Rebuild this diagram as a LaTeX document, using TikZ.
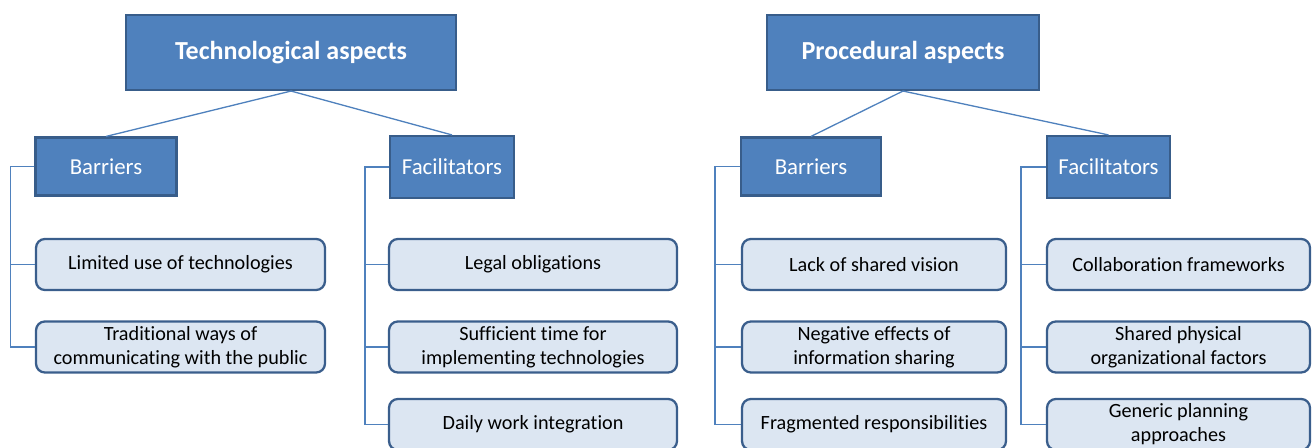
\documentclass[tikz,border=0pt]{standalone}
\usepackage{fontspec}
\setmainfont{Carlito}[Ligatures=NoCommon]
\definecolor{boxblue}{RGB}{79, 129, 189}
\definecolor{boxedge}{RGB}{56, 93, 138}
\definecolor{leaffill}{RGB}{220, 230, 242}
\definecolor{leafedge}{RGB}{58, 94, 140}

\begin{document}
\begin{tikzpicture}[x=0.02cm, y=-0.02cm,
  head/.style={draw=boxedge, fill=boxblue, line width=1.2pt, text=white, inner sep=0pt,
               minimum height=1.5cm, font=\fontsize{14.8}{17}\selectfont\bfseries},
  group/.style={draw=boxedge, fill=boxblue, line width=1.2pt, text=white, inner sep=0pt,
                font=\fontsize{13}{16}\selectfont},
  leaf/.style={draw=leafedge, fill=leaffill, line width=1.3pt, rounded corners=5pt,
               align=center, inner sep=0pt, minimum height=1.02cm,
               font=\fontsize{11.5}{13.6}\selectfont},
  link/.style={draw=boxblue, line width=0.75pt}]
  \useasboundingbox (0, 0) rectangle (1312, 448);

  % technological side
  \node[head, minimum width=6.6cm] (tech) at (291, 52.5) {Technological aspects};
  \node[group, minimum width=2.82cm, minimum height=1.16cm] (tbar) at (106, 166.5) {Barriers};
  \node[group, minimum width=2.48cm, minimum height=1.24cm] (tfac) at (452, 167) {Facilitators};

  \node[leaf, minimum width=5.78cm] (tb1) at (180.5, 264.5) {Limited use of technologies};
  \node[leaf, minimum width=5.78cm] (tb2) at (180.5, 347) {Traditional ways of\\communicating with the public};

  \node[leaf, minimum width=5.76cm] (tf1) at (533, 264.5) {Legal obligations};
  \node[leaf, minimum width=5.76cm] (tf2) at (533, 347) {Sufficient time for\\implementing technologies};
  \node[leaf, minimum width=5.76cm] (tf3) at (533, 424.5) {Daily work integration};

  % procedural side
  \node[head, minimum width=5.44cm] (proc) at (903, 52.5) {Procedural aspects};
  \node[group, minimum width=2.8cm, minimum height=1.16cm] (pbar) at (811, 166.5) {Barriers};
  \node[group, minimum width=2.46cm, minimum height=1.24cm] (pfac) at (1108.5, 167) {Facilitators};

  \node[leaf, minimum width=5.28cm] (pb1) at (874, 264.5) {Lack of shared vision};
  \node[leaf, minimum width=5.28cm] (pb2) at (874, 347) {Negative effects of\\information sharing};
  \node[leaf, minimum width=5.28cm] (pb3) at (874, 424.5) {Fragmented responsibilities};

  \node[leaf, minimum width=5.26cm] (pf1) at (1178.5, 264.5) {Collaboration frameworks};
  \node[leaf, minimum width=5.26cm] (pf2) at (1178.5, 347) {Shared physical\\organizational factors};
  \node[leaf, minimum width=5.26cm] (pf3) at (1178.5, 424.5) {Generic planning\\approaches};

  % links
  \draw[link] (tech.south) -- (tbar.north);
  \draw[link] (tech.south) -- (tfac.north);
  \draw[link] (proc.south) -- (pbar.north);
  \draw[link] (proc.south) -- (pfac.north);

  \foreach \c in {tb1, tb2} {
    \draw[link] (tbar.west) -- ++(-24, 0) |- (\c.west);
  }
  \foreach \c in {tf1, tf2, tf3} {
    \draw[link] (tfac.west) -- ++(-24, 0) |- (\c.west);
  }
  \foreach \c in {pb1, pb2, pb3} {
    \draw[link] (pbar.west) -- ++(-25, 0) |- (\c.west);
  }
  \foreach \c in {pf1, pf2, pf3} {
    \draw[link] (pfac.west) -- ++(-25, 0) |- (\c.west);
  }
\end{tikzpicture}
\end{document}
